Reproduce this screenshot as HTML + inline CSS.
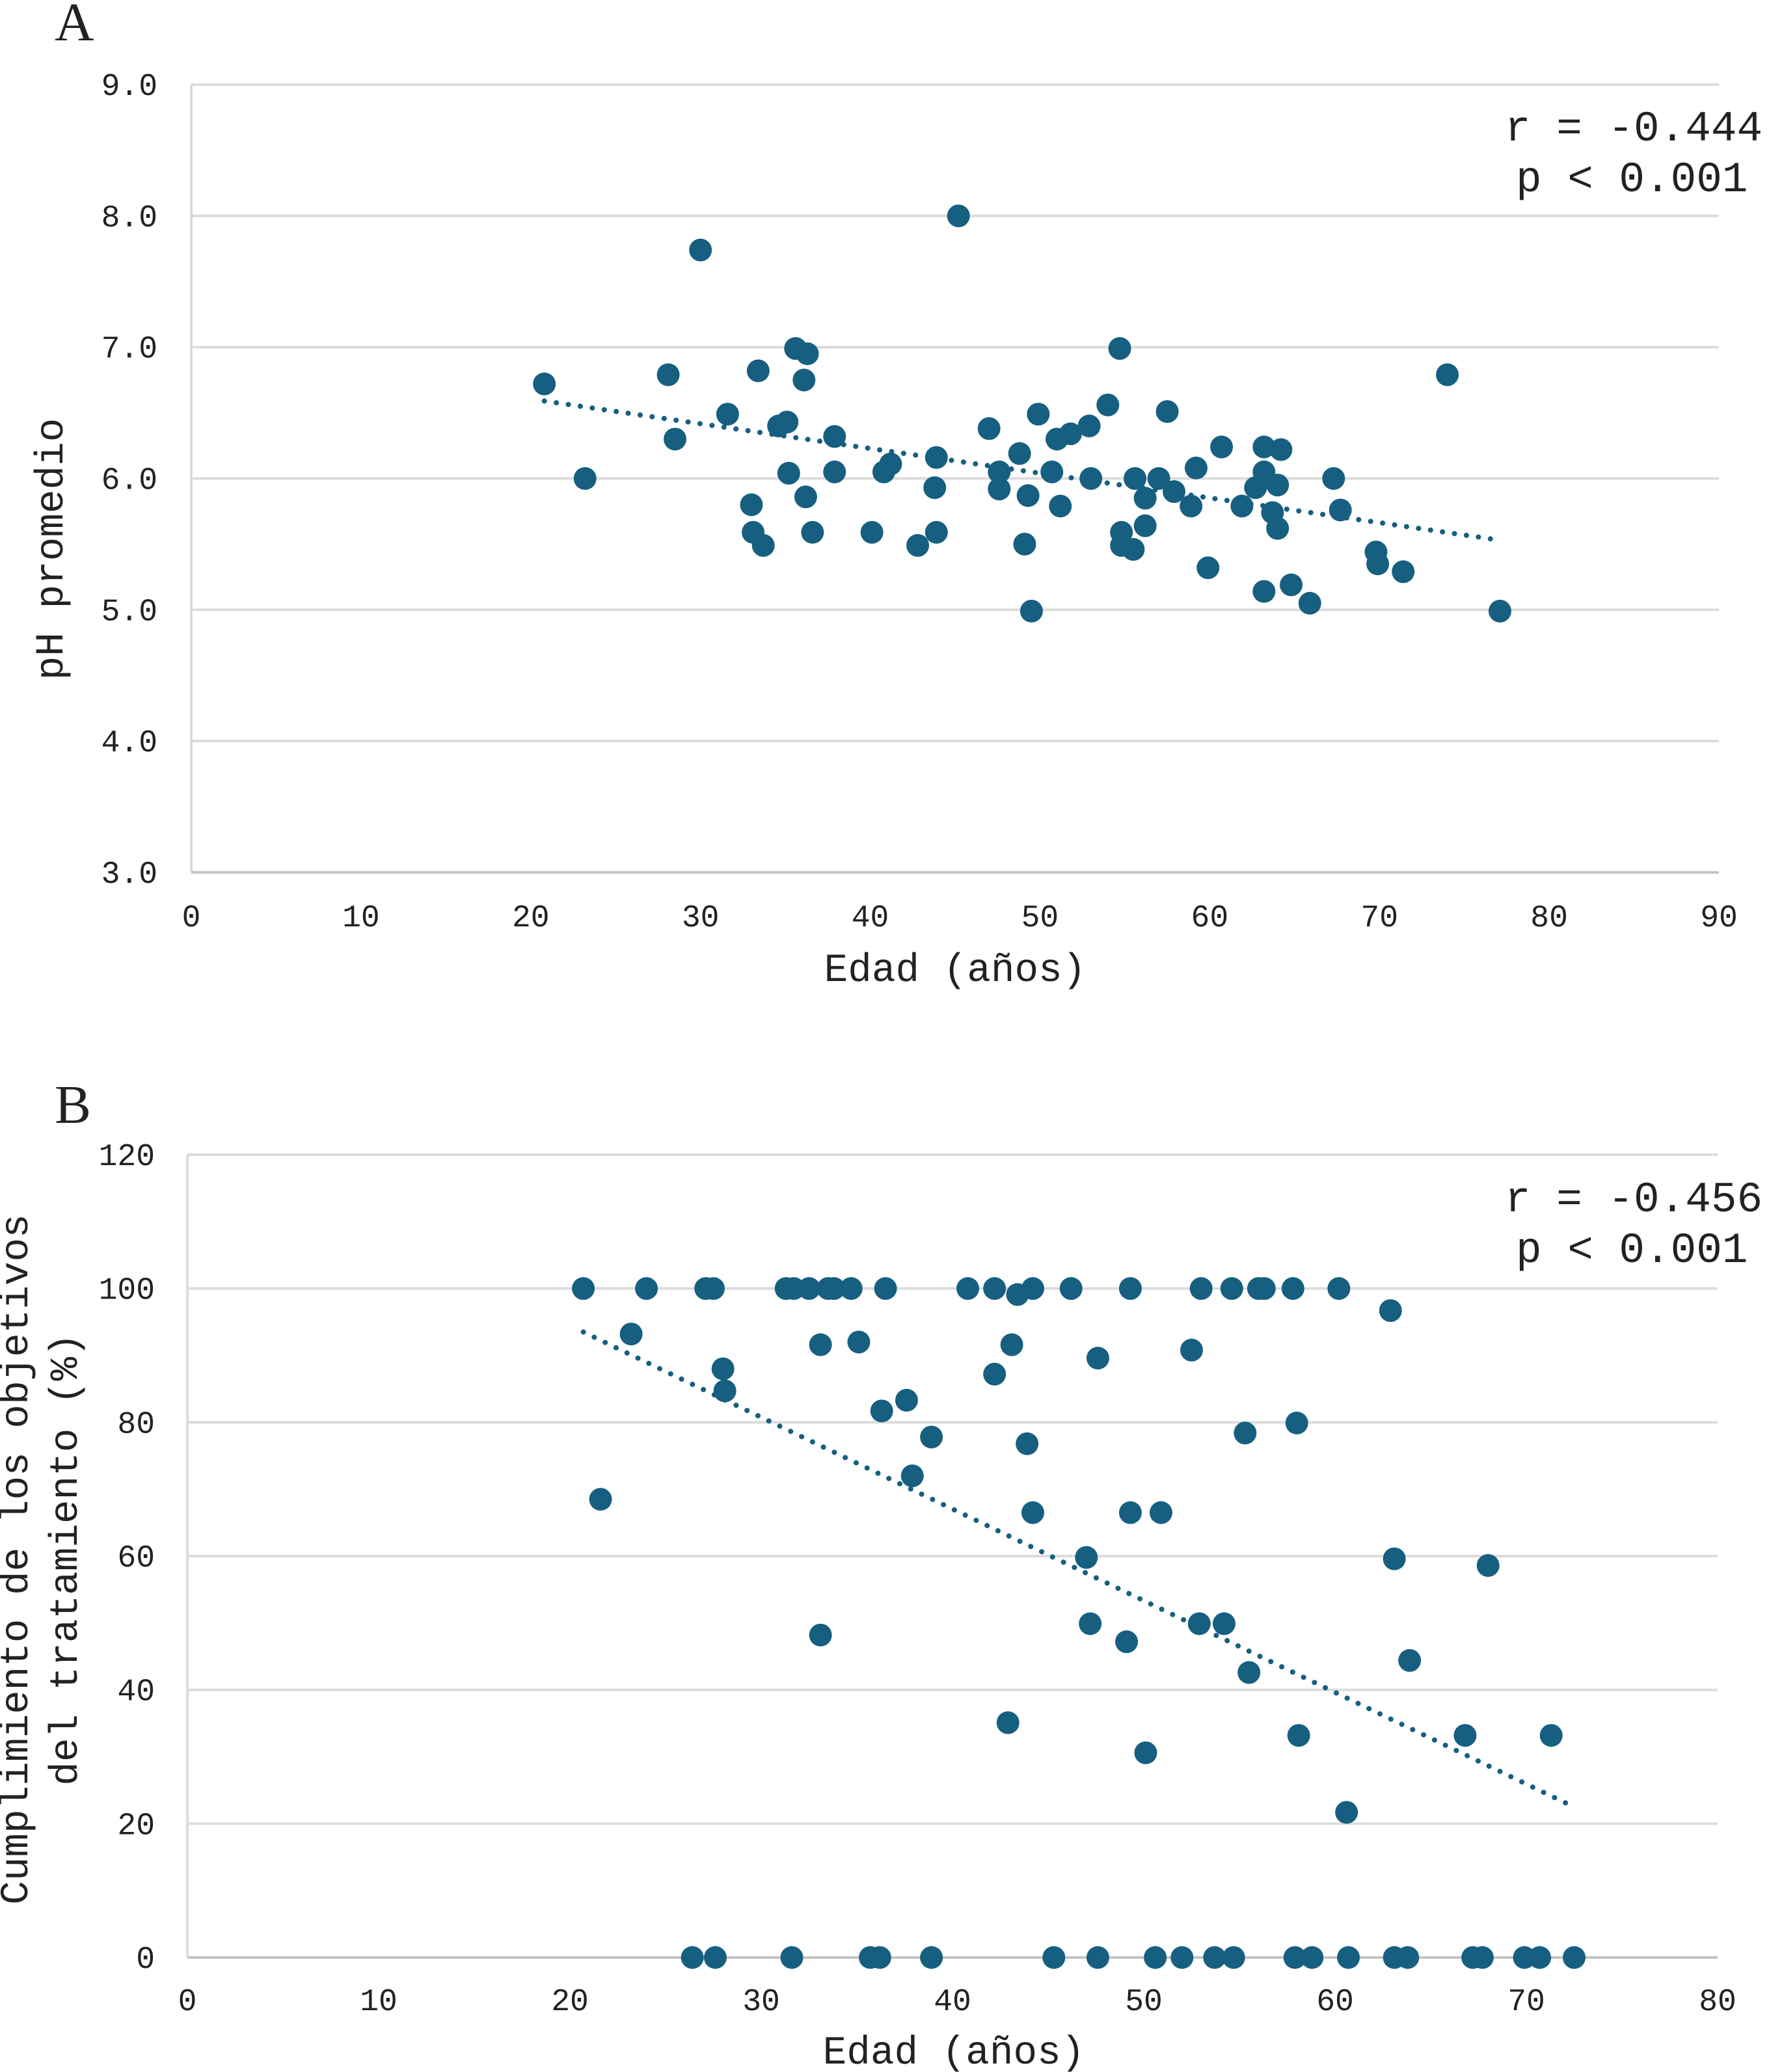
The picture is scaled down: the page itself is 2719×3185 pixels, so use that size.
<!DOCTYPE html>
<html><head><meta charset="utf-8">
<style>
html,body{margin:0;padding:0;background:#fff;}
svg{display:block;}
text{font-family:"Liberation Mono",monospace;fill:#222;}
</style></head>
<body>
<svg id="chart" width="2719" height="3185" viewBox="0 0 2719 3185" xmlns="http://www.w3.org/2000/svg"></svg>
<script>
// ---- Panel A data ----
const ageA = [20.8,23.2,28.1,28.5,30.0,31.6,33.0,33.1,33.4,33.7,34.6,35.1,35.2,35.6,36.1,36.3,36.2,36.6,37.9,37.9,40.1,40.8,41.2,42.8,43.9,43.8,43.9,45.2,47.0,47.6,47.6,48.8,49.1,49.3,49.5,49.9,50.7,51.0,51.2,51.8,52.9,53.0,54.0,54.7,54.8,54.8,55.6,55.5,56.2,56.2,57.0,57.5,57.9,58.9,59.2,59.9,60.7,61.9,62.7,63.2,63.2,63.2,63.7,64.0,64.0,64.2,64.8,65.9,67.3,67.7,69.8,69.9,71.4,74.0,77.1];
const phA = [6.72,6.0,6.79,6.3,7.74,6.49,5.8,5.59,6.82,5.49,6.4,6.43,6.04,6.99,6.75,6.95,5.86,5.59,6.32,6.05,5.59,6.05,6.11,5.49,6.16,5.93,5.59,8.0,6.38,6.05,5.92,6.19,5.5,5.87,4.99,6.49,6.05,6.3,5.79,6.34,6.4,6.0,6.56,6.99,5.49,5.59,6.0,5.46,5.85,5.64,6.0,6.51,5.9,5.79,6.08,5.32,6.24,5.79,5.93,6.24,6.05,5.14,5.74,5.95,5.62,6.22,5.19,5.05,6.0,5.76,5.44,5.35,5.29,6.79,4.99];
const trendAX = [20.8,77.1];
const trendAY = [6.59,5.53];
const xTicksA = [0,10,20,30,40,50,60,70,80,90];
const yTicksA = ["3.0","4.0","5.0","6.0","7.0","8.0","9.0"];
// ---- Panel B data ----
const ageB = [20.7,24.0,27.1,27.5,31.3,31.7,32.5,33.5,33.8,34.7,36.5,40.8,42.2,44.2,46.2,49.3,53.0,54.6,56.0,56.3,57.8,60.2,43.4,
 62.9,23.2,33.1,35.1,43.1,28.0,42.2,47.6,52.5,28.1,37.6,36.3,38.9,55.3,58.0,43.9,37.9,21.6,44.2,49.3,50.9,47.0,63.1,68.0,33.1,47.2,52.9,54.2,49.1,55.5,63.9,42.9,50.1,58.1,66.8,71.3,60.6,
 26.4,27.6,31.6,35.7,36.2,38.9,45.3,47.6,50.6,52.0,53.7,54.7,57.9,58.8,60.7,63.1,63.8,67.2,67.7,69.9,70.7,72.5];
const complB = [100,100,100,100,100,100,100,100,100,100,100,100,100,100,100,100,100,100,100,100,100,100,99.1,
 96.7,93.2,91.6,92.0,91.6,88.0,87.2,89.6,90.8,84.7,83.3,81.7,77.8,78.4,79.9,76.8,72.0,68.5,66.5,66.5,66.5,59.8,59.6,58.6,48.2,49.9,49.9,49.9,47.2,42.6,44.4,35.1,30.6,33.2,33.2,33.2,21.7,
 0,0,0,0,0,0,0,0,0,0,0,0,0,0,0,0,0,0,0,0,0,0];
const trendBX = [20.7,72.5];
const trendBY = [93.5,22.5];
const xTicksB = [0,10,20,30,40,50,60,70,80];
const yTicksB = ["0","20","40","60","80","100","120"];

const NS = "http://www.w3.org/2000/svg";
const svg = document.getElementById("chart");
const COLOR = "#175f80";
function mk(tag, attrs, parent, txt){
  const e = document.createElementNS(NS, tag);
  for (const k in attrs) e.setAttribute(k, attrs[k]);
  if (txt !== undefined) e.textContent = txt;
  (parent||svg).appendChild(e);
  return e;
}

function panel(cfg){
  const g = mk("g", {});
  
  
  const sx = v => cfg.x0 + (v - cfg.xmin) / (cfg.xmax - cfg.xmin) * (cfg.x1 - cfg.x0);
  const sy = v => cfg.y0 - (v - cfg.ymin) / (cfg.ymax - cfg.ymin) * (cfg.y0 - cfg.y1);
  // gridlines + y labels
  cfg.yTicks.forEach(t => {
    const v = parseFloat(t);
    const y = sy(v);
    const gl = mk("line", {x1:cfg.x0, x2:cfg.x1, y1:y, y2:y, stroke: v===cfg.ymin ? "#c4c4c4" : "#dcdcdc", "stroke-width":4}, g);
    
    
    const tl = mk("text", {x:cfg.ylabX, y:y+16, "text-anchor":"end", "font-size":48}, g, t);
    
    
  });
  const ax = mk("line", {x1:cfg.x0, x2:cfg.x0, y1:cfg.y0, y2:cfg.y1, stroke:"#dcdcdc", "stroke-width":4}, g);
  
  
  cfg.xTicks.forEach(t => {
    const xl = mk("text", {x:sx(t), y:cfg.xlabY, "text-anchor":"middle", "font-size":48}, g, String(t));
    
    
  });
  // trend line
  const tr = mk("line", {x1:sx(cfg.tx[0]), y1:sy(cfg.ty[0]), x2:sx(cfg.tx[1]), y2:sy(cfg.ty[1]), stroke:COLOR, "stroke-width":8, "stroke-linecap":"round", "stroke-dasharray":"0.1 18.5"}, g);
  
  
  // points
  cfg.xs.forEach((xv, i) => {
    const c = mk("circle", {cx:sx(xv), cy:sy(cfg.ys[i]), r:17.5, fill:COLOR}, g);
    
    
  });
}

panel({name:"panel-a-chart", x0:294, x1:2642, y0:1341, y1:130, xmin:0, xmax:90, ymin:3, ymax:9,
  xTicks:xTicksA, yTicks:yTicksA, xs:ageA, ys:phA, tx:trendAX, ty:trendAY, ylabX:242, xlabY:1424});
panel({name:"panel-b-chart", x0:288, x1:2640, y0:3009, y1:1775, xmin:0, xmax:80, ymin:0, ymax:120,
  xTicks:xTicksB, yTicks:yTicksB, xs:ageB, ys:complB, tx:trendBX, ty:trendBY, ylabX:238, xlabY:3090});
</script>
<svg style="position:absolute;left:0;top:0" width="2719" height="3185">
  <text x="84" y="62" font-size="84" style="font-family:'Liberation Serif',serif">A</text>
  <text x="2313" y="216" font-size="66">r = -0.444</text>
  <text x="2330" y="294" font-size="66">p &lt; 0.001</text>
  <text x="1468" y="1508" font-size="61" text-anchor="middle">Edad (años)</text>
  <text transform="translate(96,844) rotate(-90)" font-size="61" text-anchor="middle">pH promedio</text>
  <text x="84" y="1726" font-size="84" style="font-family:'Liberation Serif',serif">B</text>
  <text x="2313" y="1862" font-size="66">r = -0.456</text>
  <text x="2330" y="1940" font-size="66">p &lt; 0.001</text>
  <text x="1466" y="3172" font-size="61" text-anchor="middle">Edad (años)</text>
  <text transform="translate(42,2397) rotate(-90)" font-size="61" text-anchor="middle">Cumplimiento de los objetivos</text>
  <text transform="translate(118,2397) rotate(-90)" font-size="61" text-anchor="middle">del tratamiento (%)</text>
</svg>
</body></html>
